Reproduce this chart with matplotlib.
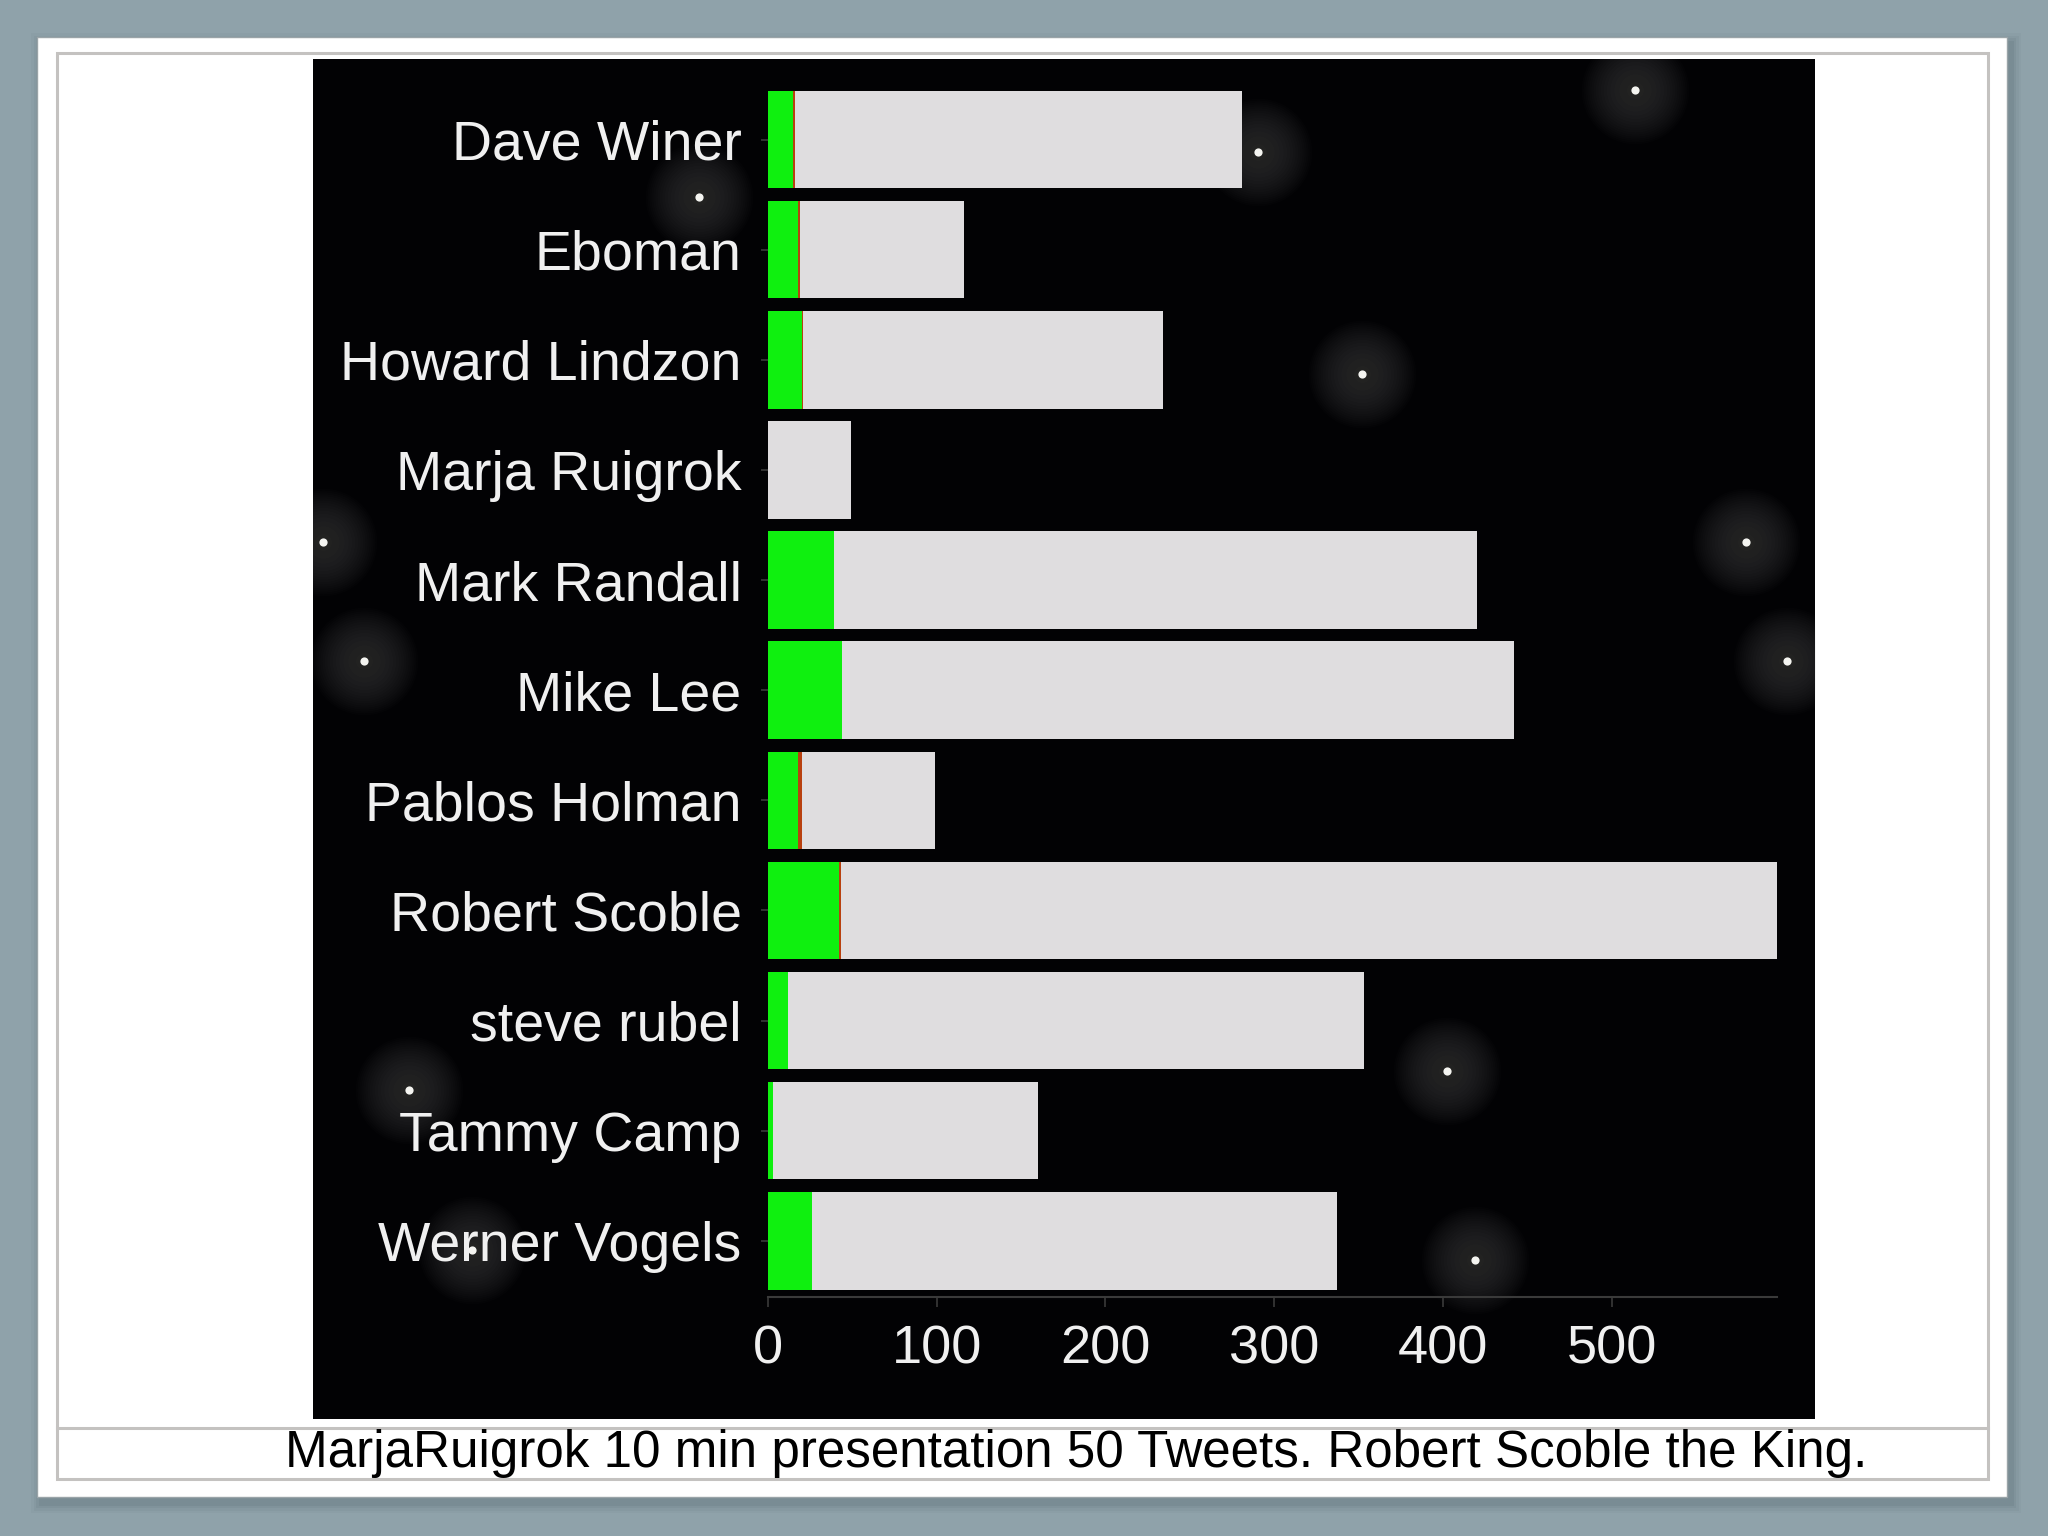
import matplotlib
matplotlib.use("Agg")
import matplotlib.pyplot as plt
from matplotlib.patches import Rectangle
import numpy as np

# ---- data ----
names = ["Dave Winer", "Eboman", "Howard Lindzon", "Marja Ruigrok", "Mark Randall",
         "Mike Lee", "Pablos Holman", "Robert Scoble", "steve rubel", "Tammy Camp",
         "Werner Vogels"]
positive = [15, 18, 20, 0, 39, 44, 18, 42, 12, 3, 26]
negative = [1, 1, 1, 0, 0, 0, 2, 1, 0, 0, 0]
neutral = [265, 97, 213, 49, 381, 398, 79, 555, 341, 157, 311]
xticks = [0, 100, 200, 300, 400, 500]
caption = "MarjaRuigrok 10 min presentation 50 Tweets. Robert Scoble the King."

# decorative star positions (pixel coords on the slide)
stars = [(1258, 152), (699, 197), (1635, 90), (1362, 374), (323, 542), (1746, 542),
         (364, 661), (1787, 661), (409, 1090), (1447, 1071), (1475, 1260), (472, 1250)]

W, H = 2048, 1536
plt.rcParams['font.family'] = ['Liberation Sans', 'DejaVu Sans']
fig = plt.figure(figsize=(W / 100, H / 100), dpi=100)
fig.patch.set_facecolor('#8fa2aa')

def fx(x): return x / W
def fy(y): return 1 - y / H

def rect_px(x0, y0, x1, y1, **kw):
    r = Rectangle((fx(x0), fy(y1)), fx(x1) - fx(x0), fy(y0) - fy(y1),
                  transform=fig.transFigure, **kw)
    fig.add_artist(r)
    return r

# slide shadow + slide
for i, a in enumerate([0.05, 0.07, 0.09, 0.12]):
    d = 10 - i * 2.5
    rect_px(37 - d + 4, 37 - d + 6, 2007 + d + 4, 1497 + d + 6, facecolor='#4a5a62', alpha=a, lw=0, zorder=0)
rect_px(37, 37, 2007, 1497, facecolor='white', edgecolor='#9aa4a8', lw=1, zorder=1)
# inner border
rect_px(57, 53, 1988, 1479, facecolor='none', edgecolor='#c4c2c0', lw=2.2, zorder=2)
# caption divider line
fig.add_artist(plt.Line2D([fx(57), fx(1988)], [fy(1428), fy(1428)], transform=fig.transFigure,
                          color='#c4c2c0', lw=2.2, zorder=2))

# black panel with stars
bg = fig.add_axes([fx(313), fy(1419), fx(1815) - fx(313), fy(59) - fy(1419)], zorder=3)
bg.set_facecolor('#020204')
bg.set_xlim(313, 1815)
bg.set_ylim(1419, 59)
bg.set_xticks([])
bg.set_yticks([])
for s in bg.spines.values():
    s.set_visible(False)
sx = [s[0] for s in stars]
sy = [s[1] for s in stars]
for size in np.linspace(6000, 150, 16):
    bg.scatter(sx, sy, s=size, color='#e8e4c8', alpha=0.012, lw=0)
bg.scatter(sx, sy, s=35, color='#f4f4f0', lw=0)

# main chart axes
ax = fig.add_axes([fx(768), fy(1297), fx(1777) - fx(768), fy(79) - fy(1297)], zorder=4)
ax.set_facecolor('none')
y = np.arange(len(names))
pos = np.array(positive, float)
neg = np.array(negative, float)
neu = np.array(neutral, float)
h = 0.885
ax.barh(y, pos, height=h, color='#0ff00f', lw=0)
ax.barh(y, neg, left=pos, height=h, color='#b8400f', lw=0)
ax.barh(y, neu, left=pos + neg, height=h, color='#dfdddf', lw=0)

ax.set_xlim(0, 598)
ax.set_ylim(len(names) - 1 + 0.51, -0.55)
ax.set_yticks(y)
ax.set_yticklabels(names)
ax.set_xticks(xticks)
ax.set_xticklabels([str(t) for t in xticks])
for s in ['top', 'right', 'left']:
    ax.spines[s].set_visible(False)
ax.spines['bottom'].set_color('#3a3a3a')
ax.spines['bottom'].set_linewidth(1.5)
ax.tick_params(axis='x', colors='#3a3a3a', length=7, width=1.2, labelcolor='#f0f0f0',
               labelsize=39, pad=13)
ax.tick_params(axis='y', colors='#3a3a3a', length=5, width=1.2, labelcolor='#f0f0f0',
               labelsize=40, pad=14)

# caption
fig.text(fx(285), fy(1453), caption, fontsize=36.8, color='black', ha='left', va='center', zorder=5)

fig.savefig('out.png', dpi=100, facecolor=fig.get_facecolor())
